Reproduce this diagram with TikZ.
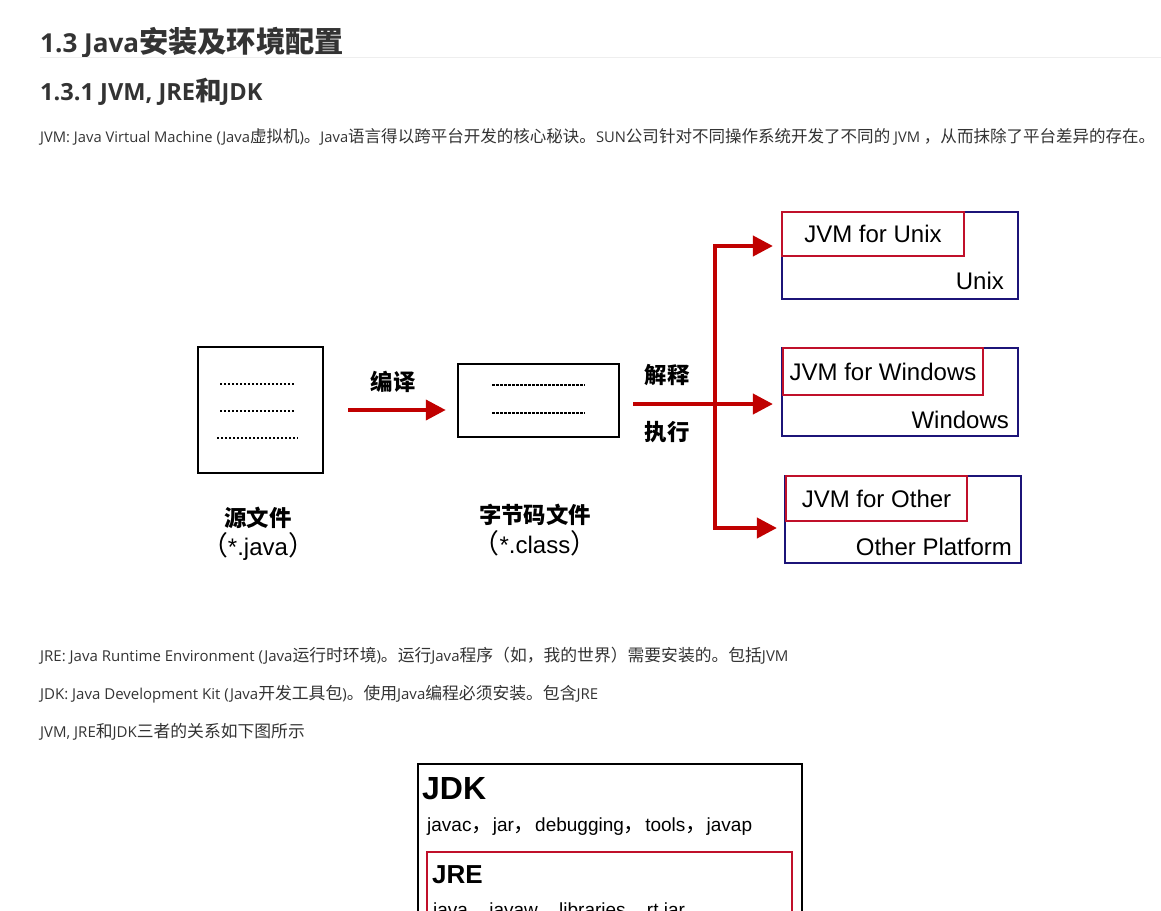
\documentclass[tikz,border=0pt]{standalone}
\usepackage{fontspec}
\setmainfont{Open Sans}
\newfontfamily\cjk{Noto Sans CJK SC}[Scale=1.12]
\newfontfamily\arial{Liberation Sans}
\newcommand\zh[1]{{\cjk #1}}
\usetikzlibrary{arrows.meta}
\definecolor{webtext}{HTML}{333333}
\definecolor{rulegray}{HTML}{EEEEEE}
\definecolor{arrowred}{HTML}{C00000}
\definecolor{boxred}{HTML}{C0102A}
\definecolor{boxnavy}{HTML}{1C1478}
\begin{document}
\begin{tikzpicture}[x=1pt,y=-1pt]
	\tikzset{>={Triangle[length=20pt,width=20pt]}}
	\tikzset{
		codebox/.style={draw=black, line width=2.5pt, inner sep=0pt},
		platbox/.style={draw=boxnavy, line width=2.2pt, inner sep=0pt, minimum width=236pt},
		jvmbox/.style={draw=boxred, line width=2.2pt, inner sep=0pt, anchor=north west, font=\arial\fontsize{24}{28}\selectfont},
		redarrow/.style={draw=arrowred, line width=4pt},
		diagzh/.style={font=\cjk\bfseries\fontsize{20}{24}\selectfont, text=black, inner sep=0pt},
		diagen/.style={font=\arial\fontsize{24}{28}\selectfont, text=black, inner sep=0pt},
		webbody/.style={font=\fontsize{15}{18}\selectfont, text=webtext, anchor=base west, inner sep=0pt},
		dotline/.style={line width=1.5pt, dash pattern=on 1.5pt off 2.5pt},
		dashline/.style={line width=1.5pt, dash pattern=on 3pt off 1pt}
	}
	\useasboundingbox (0,0) rectangle (1161,910);
	\clip (0,0) rectangle (1161,910);
	% headings and text
	\node[anchor=base west, inner sep=0pt, text=webtext, font=\bfseries\fontsize{26.1}{34}\selectfont] (title) at (40,52) {1.3 Java\zh{安装及环境配置}};
	\draw[rulegray, line width=1pt] (40,57.5) -- (1161,57.5);
	\node[anchor=base west, inner sep=0pt, text=webtext, font=\bfseries\fontsize{23.6}{28}\selectfont] (subtitle) at (40,100) {1.3.1 JVM, JRE\zh{和}JDK};
	\node[webbody, font=\fontsize{14.75}{18}\selectfont] (jvmtext) at (40,142) {JVM: Java Virtual Machine (Java\zh{虚拟机})\zh{。}Java\zh{语言得以跨平台开发的核心秘诀。}SUN\zh{公司针对不同操作系统开发了不同的} JVM \zh{，从而抹除了平台差异的存在。}};
	\node[webbody] (jretext) at (40,661) {JRE: Java Runtime Environment (Java\zh{运行时环境})\zh{。运行}Java\zh{程序（如，我的世界）需要安装的。包括}JVM};
	\node[webbody] (jdktext) at (40,699) {JDK: Java Development Kit (Java\zh{开发工具包})\zh{。使用}Java\zh{编程必须安装。包含}JRE};
	\node[webbody] (reltext) at (40,737) {JVM, JRE\zh{和}JDK\zh{三者的关系如下图所示}};
	% source and class files
	\node[codebox, minimum width=125pt, minimum height=126pt] (src) at (260.5,410) {};
	\node[codebox, minimum width=161pt, minimum height=73pt] (cls) at (538.5,400.5) {};
	\foreach \y/\a/\b in {384/220/295, 411/220/295, 438/217/298}
		\draw[dotline] (\a,\y) -- (\b,\y);
	\foreach \y in {385,413}
		\draw[dashline] (492,\y) -- (585,\y);
	\node[diagzh] (srcname) at (258,518) {源文件};
	\node[diagen] (srcext) at (258,546) {\zh{（}*.java\zh{）}};
	\node[diagzh] (clsname) at (535,515) {字节码文件};
	\node[diagen] (clsext) at (535,543) {\zh{（}*.class\zh{）}};
	\node[diagzh] (compile) at (393,382) {编译};
	\node[diagzh] (interp) at (667,375) {解释};
	\node[diagzh] (exec) at (667,432) {执行};
	\draw[redarrow,->,shorten <=24pt,shorten >=11pt] (src.east) -- (src.east -| cls.west);
	% platforms
	\node[platbox, minimum height=87pt] (unixbox) at (900,255.5) {};
	\node[platbox, minimum height=88pt] (winbox) at (900,392) {};
	\node[platbox, minimum height=87pt] (otherbox) at (903,519.5) {};
	\node[jvmbox, minimum width=182pt, minimum height=44pt] (unixjvm) at (unixbox.north west) {JVM for Unix};
	\node[jvmbox, minimum width=200pt, minimum height=47pt] (winjvm) at ([xshift=1pt]winbox.north west) {JVM for Windows};
	\node[jvmbox, minimum width=181pt, minimum height=45pt] (otherjvm) at ([xshift=1pt]otherbox.north west) {JVM for Other};
	\node[diagen, anchor=east] (unixname) at ([xshift=-15pt,yshift=19pt]unixbox.south east) {Unix};
	\node[diagen, anchor=east] (winname) at ([xshift=-10pt,yshift=17pt]winbox.south east) {Windows};
	\node[diagen, anchor=east] (othername) at ([xshift=-10pt,yshift=17pt]otherbox.south east) {Other Platform};
	\coordinate (fork) at (715,404);
	\coordinate (top) at (715,246);
	\coordinate (bot) at (715,528);
	\draw[redarrow,->,shorten <=13pt,shorten >=8pt] (cls.east |- fork) -- (winbox.west |- fork);
	\draw[redarrow,<->,shorten <=8pt,shorten >=7pt] (top -| unixbox.west) -- (top) -- (bot) -- (bot -| otherbox.west);
	% JDK and JRE
	\node[draw=black, line width=2pt, minimum width=384pt, minimum height=200pt, anchor=north west] (jdk) at (417,763) {};
	\node[draw=boxred, line width=2pt, minimum width=365pt, minimum height=120pt, anchor=north west] (jre) at (426,851) {};
	\node[anchor=base west, inner sep=0pt, font=\arial\bfseries\fontsize{32}{38}\selectfont] (jdktitle) at (422,799) {JDK};
	\node[anchor=base west, inner sep=0pt, font=\arial\fontsize{19}{23}\selectfont] (jdktools) at (427,831) {javac\zh{，}jar\zh{，}debugging\zh{，}tools\zh{，}javap};
	\node[anchor=base west, inner sep=0pt, font=\arial\bfseries\fontsize{26}{31}\selectfont] (jretitle) at (432,883) {JRE};
	\node[anchor=base west, inner sep=0pt, font=\arial\fontsize{19}{23}\selectfont] (jretools) at (433,916) {java\zh{，}javaw\zh{，}libraries\zh{，}rt.jar};
\end{tikzpicture}
\end{document}
